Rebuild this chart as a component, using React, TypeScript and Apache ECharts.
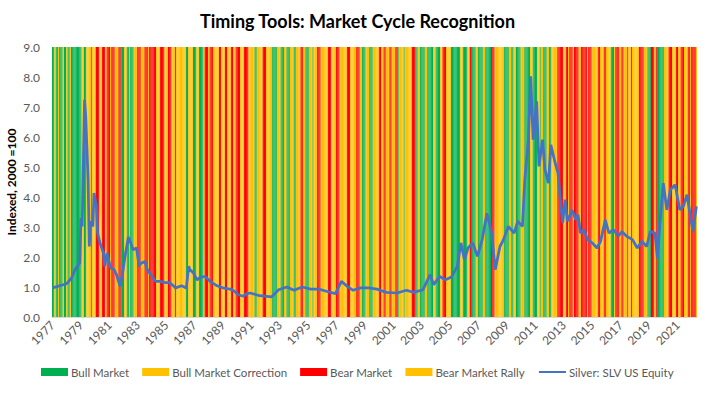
import React, { useEffect, useRef } from "react";
import * as echarts from "echarts";

// Market regime per month from Jan 1977, run-length encoded:
// G = Bull Market, C = Bull Market Correction, B = Bear Market, R = Bear Market Rally
const regimeRuns = [
  "G2 C1 G2 C1 G3 C1 G2 C1 G2 C1 G9",
  "C2 G2 C4 G1 C3",
  "B3 R2 B3 R1 B3 R1 B3 R3 B2",
  "G3 C2 G2 C1 G3 C3",
  "B3 R3 B3 R1 B6 R3 B4 R3 B3 R3 B1",
  "R8",
  "G2 C4 G3 C2 G4 C1",
  "B3 R1 B3 R1",
  "R4 B2 R3 B2 R3 B2 R2 B4 R3 B4 R5",
  "G2 C5 B3 R5",
  "G4 C3 G3 C2 G3 C3 G2 C4",
  "B2 R2 G3 C3 G1 C3",
  "B3 R6 B3 R4 B3 R6 B3 R5 B3 R2",
  "G3 C3 G3 C4",
  "R1 B2 R2 B2 R3 B2 R3 B2",
  "G1 C4 G1 C6 B3 G2",
  "C2 G4 C2 G5 C2 G4 C2",
  "B3 R4",
  "G8 C2 G4 C2 B1 G4 C2 G4 C2 G5",
  "B3 R8",
  "G4 C2 G2 C2 G4 C3 G5 C2 G4 C2 G1",
  "C2 G3 C2 G2 C5",
  "B5 R2 B2 R1 B3 R1 B4 R2 B5 R1 B3 R1",
  "R4 B2 R3 B2 R4",
  "G3 C1",
  "B3 R2 B2 R3 B1 R2 B1 R6",
  "B4 R3 G3 B3 R1 B1",
  "G6",
  "C4 B3 R3 B2 R2 B3 R3 B2 R1 B4 R1",
];

// Silver (SLV US Equity), indexed; month offset from Jan 1977 and value
const silverMonth = [
  0, 6, 12, 16, 19, 23, 24, 25, 27, 28, 30, 31, 32, 34, 35, 37, 38, 40, 43, 44,
  46, 49, 52, 54, 57, 59, 61, 64, 66, 68, 71, 73, 75, 78, 80, 83, 87, 91, 95, 99,
  104, 109, 113, 115, 116, 119, 122, 125, 129, 133, 139, 144, 152, 157, 161, 164, 167, 175, 185, 191,
  198, 204, 211, 218, 225, 232, 239, 244, 249, 254, 260, 267, 274, 282, 291, 299, 305, 313, 319, 322,
  327, 332, 337, 342, 345, 348, 351, 355, 359, 363, 367, 371, 374, 378, 381, 385, 390, 393, 397, 399,
  402, 404, 406, 409, 411, 414, 416, 419, 421, 424, 427, 429, 431, 433, 435, 439, 442, 444, 446, 449,
  452, 456, 460, 463, 467, 470, 474, 478, 481, 485, 490, 494, 498, 502, 505, 509, 511, 513, 516, 519,
  522, 526, 530, 533, 536, 539, 541, 544,
];
const silverValue = [
  0.97, 1.04, 1.11, 1.3, 1.58, 1.8, 3.3, 3.02, 7.24, 6.68, 4.57, 2.35, 3.19, 3.02, 4.13, 3.69, 2.8, 2.47, 2.13, 1.69,
  2.13, 1.63, 1.58, 1.41, 1.02, 1.41, 1.97, 2.67, 2.47, 2.24, 2.3, 1.69, 1.8, 1.85, 1.58, 1.41, 1.19, 1.19, 1.15, 1.15,
  0.97, 1.04, 0.97, 1.69, 1.58, 1.47, 1.24, 1.33, 1.35, 1.19, 1.04, 0.97, 0.91, 0.74, 0.69, 0.78, 0.8, 0.71, 0.67, 0.91,
  1.0, 0.89, 1.0, 0.93, 0.93, 0.85, 0.78, 1.19, 1.02, 0.89, 0.97, 0.97, 0.93, 0.82, 0.8, 0.89, 0.82, 0.91, 1.41, 1.08,
  1.35, 1.24, 1.33, 1.69, 2.47, 1.91, 2.3, 2.47, 2.02, 2.58, 3.46, 2.8, 1.58, 2.35, 2.58, 3.02, 2.8, 3.19, 3.02, 4.57,
  5.91, 8.02, 5.91, 7.19, 5.02, 5.91, 4.91, 4.46, 5.74, 5.24, 4.8, 3.91, 3.13, 3.91, 3.19, 3.57, 3.24, 3.41, 2.8, 2.91,
  2.58, 2.47, 2.3, 2.52, 3.24, 2.8, 2.91, 2.69, 2.85, 2.69, 2.58, 2.3, 2.52, 2.35, 2.85, 2.8, 1.97, 3.02, 4.46, 3.57,
  4.24, 4.41, 3.57, 3.69, 4.08, 3.35, 2.85, 3.69,
];

const yTicks = [0, 1, 2, 3, 4, 5, 6, 7, 8, 9];

const regimes = [
  { code: "G", name: "Bull Market", color: "#00B050" },
  { code: "C", name: "Bull Market Correction", color: "#FFC000" },
  { code: "B", name: "Bear Market", color: "#FF0000" },
  { code: "R", name: "Bear Market Rally", color: "#FFC000" },
];

const FONT = "Lato, 'Open Sans', sans-serif";

export default function App() {
  const ref = useRef<HTMLDivElement>(null);
  useEffect(() => {
    if (!ref.current) return;
    document.body.style.margin = "0";
    const chart = echarts.init(ref.current, undefined, { renderer: "svg" });

    const codes: string[] = [];
    regimeRuns.join(" ").split(/\s+/).forEach((tok) => {
      const c = tok[0];
      const n = parseInt(tok.slice(1), 10);
      for (let i = 0; i < n; i++) codes.push(c);
    });
    const startYear = 1977;
    const categories = codes.map(
      (_, i) => `${startYear + Math.floor(i / 12)}-${String((i % 12) + 1).padStart(2, "0")}`
    );
    const top = yTicks[yTicks.length - 1];

    const barSeries = regimes.map((r) => ({
      name: r.name,
      type: "bar",
      data: codes.map((c) => (c === r.code ? top : "-")),
      barGap: "-100%",
      barCategoryGap: 0,
      itemStyle: { color: r.color },
      emphasis: { disabled: true },
      z: 1,
    }));

    chart.setOption({
      animation: false,
      title: {
        text: "Timing Tools: Market Cycle Recognition",
        left: "center",
        top: 7,
        textStyle: { fontFamily: FONT, fontSize: 18, fontWeight: "bold", color: "#000" },
      },
      grid: { left: 52, right: 18, top: 47, bottom: 76, outerBoundsMode: "none" },
      legend: {
        bottom: 10,
        left: "center",
        itemWidth: 27,
        itemHeight: 8,
        itemGap: 13,
        textStyle: { fontFamily: FONT, fontSize: 11.5, color: "#595959", padding: [0, 0, 0, -2] },
        data: [
          { name: "Bull Market", icon: "rect" },
          { name: "Bull Market Correction", icon: "rect" },
          { name: "Bear Market", icon: "rect" },
          { name: "Bear Market Rally", icon: "rect" },
          { name: "Silver: SLV US Equity", itemStyle: { opacity: 0 } },
        ],
      },
      xAxis: {
        type: "category",
        data: categories,
        boundaryGap: true,
        axisLine: { lineStyle: { color: "#D9D9D9" } },
        axisTick: { interval: 23, length: 5, lineStyle: { color: "#D9D9D9" } },
        axisLabel: {
          interval: 23,
          rotate: 45,
          margin: 6,
          fontFamily: FONT,
          fontSize: 12,
          color: "#595959",
          formatter: (v: string) => v.slice(0, 4),
        },
      },
      yAxis: {
        type: "value",
        min: yTicks[0],
        max: top,
        interval: 1,
        name: "Indexed, 2000 =100",
        nameLocation: "middle",
        nameGap: 35,
        nameMoveOverlap: false,
        nameTextStyle: { fontFamily: FONT, fontSize: 12, fontWeight: "bold", color: "#000" },
        axisLine: { show: false },
        axisTick: { show: false },
        splitLine: { show: false },
        axisLabel: {
          margin: 12,
          fontFamily: FONT,
          fontSize: 12,
          color: "#595959",
          formatter: (v: number) => v.toFixed(1),
        },
      },
      series: [
        ...barSeries,
        {
          name: "Silver: SLV US Equity",
          type: "line",
          data: silverMonth.map((m, i) => [m, silverValue[i]]),
          symbol: "none",
          lineStyle: { color: "#4472C4", width: 2.75 },
          itemStyle: { color: "#4472C4" },
          z: 5,
        },
      ],
    });
    return () => chart.dispose();
  }, []);
  return <div ref={ref} style={{ width: 715, height: 393 }} />;
}
